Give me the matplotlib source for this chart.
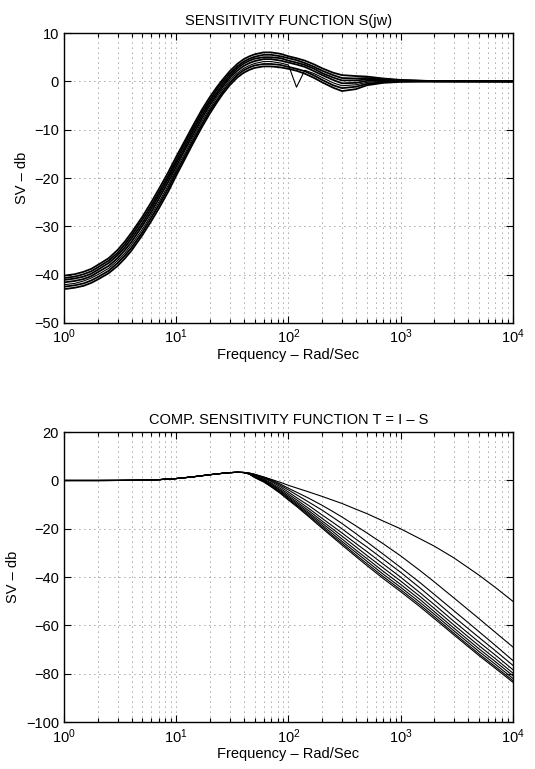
import matplotlib
matplotlib.use("Agg")
import matplotlib.pyplot as plt
from matplotlib.ticker import LogLocator, NullFormatter, MultipleLocator

plt.rcParams['font.family'] = ['Liberation Sans', 'DejaVu Sans']
plt.rcParams['mathtext.fontset'] = 'custom'
plt.rcParams['mathtext.rm'] = 'Liberation Sans'
plt.rcParams['mathtext.it'] = 'Liberation Sans'

# ---- sensitivity S(jw): frequencies (rad/s) and curves (dB)
w_s = [1, 1.25, 1.5, 1.75, 2, 2.5, 3, 3.5, 4, 5, 6, 7, 8.5, 10, 12, 14, 17, 20, 23, 26,
       30, 35, 40, 45, 50, 60, 70, 85, 100, 118, 140, 170, 200, 250, 300, 400, 500,
       700, 1000, 2000, 10000]

s_hi = [-40.2, -39.9, -39.4, -38.8, -38.0, -36.6, -34.9, -33.1, -31.3, -28.0, -25.0,
        -22.3, -18.8, -15.6, -12.2, -9.3, -5.8, -3.2, -1.2, 0.4, 2.1, 3.6, 4.6, 5.2,
        5.6, 6.0, 6.0, 5.7, 5.2, 4.8, 4.3, 3.5, 2.7, 1.8, 1.3, 1.1, 1.0, 0.6, 0.3,
        0.05, 0.0]
s_1 = [-40.7, -40.4, -39.9, -39.3, -38.5, -37.1, -35.5, -33.7, -31.9, -28.6, -25.7,
       -23.0, -19.5, -16.3, -12.8, -9.9, -6.4, -3.8, -1.7, -0.1, 1.6, 3.1, 4.1, 4.7,
       5.1, 5.5, 5.5, 5.2, 4.8, 4.4, 3.8, 3.0, 2.2, 1.3, 0.7, 0.6, 0.7, 0.45, 0.23,
       0.04, 0.0]
s_2 = [-41.1, -40.8, -40.4, -39.8, -39.0, -37.6, -36.0, -34.3, -32.5, -29.3, -26.3,
       -23.6, -20.1, -16.9, -13.5, -10.5, -7.0, -4.3, -2.3, -0.6, 1.1, 2.7, 3.7, 4.3,
       4.7, 5.0, 5.0, 4.8, 4.3, 3.9, 3.4, 2.6, 1.7, 0.8, 0.2, 0.2, 0.4, 0.3, 0.17,
       0.03, 0.0]
s_3 = [-41.6, -41.3, -40.9, -40.3, -39.5, -38.2, -36.6, -34.9, -33.2, -29.9, -27.0,
       -24.3, -20.8, -17.6, -14.1, -11.2, -7.6, -4.9, -2.8, -1.1, 0.7, 2.2, 3.2, 3.8,
       4.2, 4.6, 4.6, 4.3, 3.9, 3.5, 3.0, 2.1, 1.3, 0.3, -0.4, -0.3, 0.1, 0.15, 0.1,
       0.02, 0.0]
s_notch = [-42.1, -41.8, -41.3, -40.7, -40.0, -38.7, -37.1, -35.5, -33.8, -30.6, -27.6,
           -25.0, -21.5, -18.2, -14.8, -11.8, -8.2, -5.5, -3.3, -1.6, 0.2, 1.7, 2.7, 3.3,
           3.7, 4.1, 4.1, 3.8, 3.4, -1.2, 2.3, 1.6, 0.8, -0.3, -0.9, -0.7, -0.2, 0.0,
           0.03, 0.0, 0.0]
s_5 = [-42.5, -42.2, -41.8, -41.2, -40.5, -39.2, -37.6, -36.0, -34.4, -31.2, -28.2,
       -25.6, -22.1, -18.8, -15.4, -12.4, -8.8, -6.0, -3.9, -2.1, -0.3, 1.3, 2.3, 2.9,
       3.3, 3.6, 3.6, 3.4, 3.0, 2.6, 2.1, 1.2, 0.3, -0.8, -1.4, -1.1, -0.5, -0.15, 0.0,
       0.0, 0.0]
s_lo = [-43.0, -42.7, -42.3, -41.7, -41.0, -39.7, -38.2, -36.6, -35.0, -31.8, -28.9,
        -26.3, -22.8, -19.5, -16.0, -13.0, -9.4, -6.6, -4.4, -2.6, -0.8, 0.8, 1.8, 2.4,
        2.8, 3.1, 3.1, 2.9, 2.6, 2.2, 1.6, 0.7, -0.2, -1.3, -2.0, -1.6, -0.8, -0.3, -0.1,
        0.0, 0.0]
s_curves = [s_hi, s_1, s_2, s_3, s_notch, s_5, s_lo]

# ---- complementary sensitivity T = I - S
w_t_low = [1, 2, 3, 5, 7, 10, 14, 20, 25, 30, 35, 40]
t_low = [0.0, 0.0, 0.02, 0.1, 0.35, 0.8, 1.5, 2.4, 2.9, 3.25, 3.4, 3.3]   # shared part
w_t_high = [45, 50, 60, 70, 85, 100, 120, 150, 200, 250, 300, 400, 500, 700, 1000,
            1500, 2000, 3000, 5000, 7000, 10000]
t_top = [3.1, 2.6, 1.5, 0.5, -0.8, -2.0, -3.2, -4.65, -6.6, -8.2, -9.5, -11.9, -13.7,
         -16.8, -20.0, -24.2, -27.2, -32.1, -39.2, -44.3, -50.0]
t_second = [3.0, 2.5, 1.4, 0.3, -1.5, -3.2, -5.0, -7.2, -10.3, -12.9, -15.1, -18.8, -21.7,
            -26.2, -31.2, -37.4, -42.0, -48.7, -57.2, -62.9, -68.9]
t_third = [3.0, 2.4, 1.2, 0.0, -2.0, -3.9, -6.1, -8.8, -12.3, -15.3, -17.8, -22.0, -25.4,
           -30.5, -36.0, -42.4, -47.2, -54.0, -62.6, -68.3, -74.5]
t_hi = [2.9, 2.3, 1.0, -0.4, -2.6, -4.8, -7.3, -10.2, -14.3, -17.4, -20.0, -24.3, -27.5,
        -32.6, -38.0, -44.6, -49.5, -56.5, -65.0, -70.5, -76.5]
t_1 = [2.8, 2.0, 0.6, -1.0, -3.3, -5.6, -8.2, -11.4, -15.7, -19.0, -21.7, -26.1, -29.4,
       -34.6, -40.0, -46.6, -51.4, -58.4, -66.9, -72.3, -78.3]
t_2 = [2.8, 1.8, 0.3, -1.4, -3.9, -6.3, -9.0, -12.3, -16.8, -20.2, -23.0, -27.5, -31.0,
       -36.2, -41.6, -48.1, -53.0, -59.9, -68.4, -73.8, -79.7]
t_3 = [2.7, 1.6, 0.0, -1.8, -4.3, -6.9, -9.6, -13.1, -17.7, -21.2, -24.2, -28.8, -32.3,
       -37.6, -43.0, -49.4, -54.3, -61.2, -69.7, -75.0, -80.8]
t_4 = [2.7, 1.5, -0.2, -2.1, -4.8, -7.3, -10.2, -13.7, -18.5, -22.2, -25.2, -29.8, -33.4,
       -38.8, -44.2, -50.6, -55.4, -62.3, -70.8, -76.1, -81.9]
t_5 = [2.6, 1.3, -0.4, -2.4, -5.1, -7.8, -10.6, -14.3, -19.2, -23.0, -26.0, -30.8, -34.4,
       -39.8, -45.2, -51.6, -56.4, -63.3, -71.8, -77.1, -82.8]
t_lo = [2.6, 1.2, -0.6, -2.6, -5.4, -8.1, -11.0, -14.8, -19.8, -23.6, -26.7, -31.5, -35.2,
        -40.6, -46.0, -52.4, -57.2, -64.0, -72.5, -77.8, -83.5]
t_curves = [t_top, t_second, t_third, t_hi, t_1, t_2, t_3, t_4, t_5, t_lo]


def style_axes(ax, ylim, ystep):
    ax.set_xscale('log')
    ax.set_xlim(1, 1e4)
    ax.set_ylim(*ylim)
    ax.yaxis.set_major_locator(MultipleLocator(ystep))
    ax.xaxis.set_major_locator(LogLocator(base=10, numticks=10))
    ax.xaxis.set_minor_locator(LogLocator(base=10, subs=range(2, 10), numticks=20))
    ax.xaxis.set_minor_formatter(NullFormatter())
    grid_kw = dict(ls=(0, (1, 5)), color='0.3', lw=0.6)
    ax.grid(True, which='major', **grid_kw)
    ax.grid(True, which='minor', axis='x', **grid_kw)
    ax.tick_params(which='both', direction='in', top=True, right=True,
                   labelsize=10.5, width=0.8)
    ax.tick_params(which='major', length=5)
    ax.tick_params(which='minor', length=3)
    for sp in ax.spines.values():
        sp.set_linewidth(1.0)
    ax.set_xlabel('Frequency – Rad/Sec', fontsize=10.5, labelpad=1)
    ax.set_ylabel('SV – db', fontsize=10.5, labelpad=4)


fig = plt.figure(figsize=(5.35, 7.69), dpi=100)

ax1 = fig.add_axes([0.1196, 0.580, 0.839, 0.377])
for c in s_curves:
    ax1.plot(w_s, c, color='k', lw=0.8 if c is s_notch else 1.3)
style_axes(ax1, (-50, 10), 10)
ax1.set_title('SENSITIVITY FUNCTION S(jw)', fontsize=10.5, pad=6)

ax2 = fig.add_axes([0.1196, 0.061, 0.839, 0.377])
for c in t_curves:
    ax2.plot(w_t_low + w_t_high, t_low + c, color='k', lw=0.8)
style_axes(ax2, (-100, 20), 20)
ax2.set_title('COMP. SENSITIVITY FUNCTION T = I – S', fontsize=10.5, pad=6)

fig.savefig('out.png', dpi=100)
